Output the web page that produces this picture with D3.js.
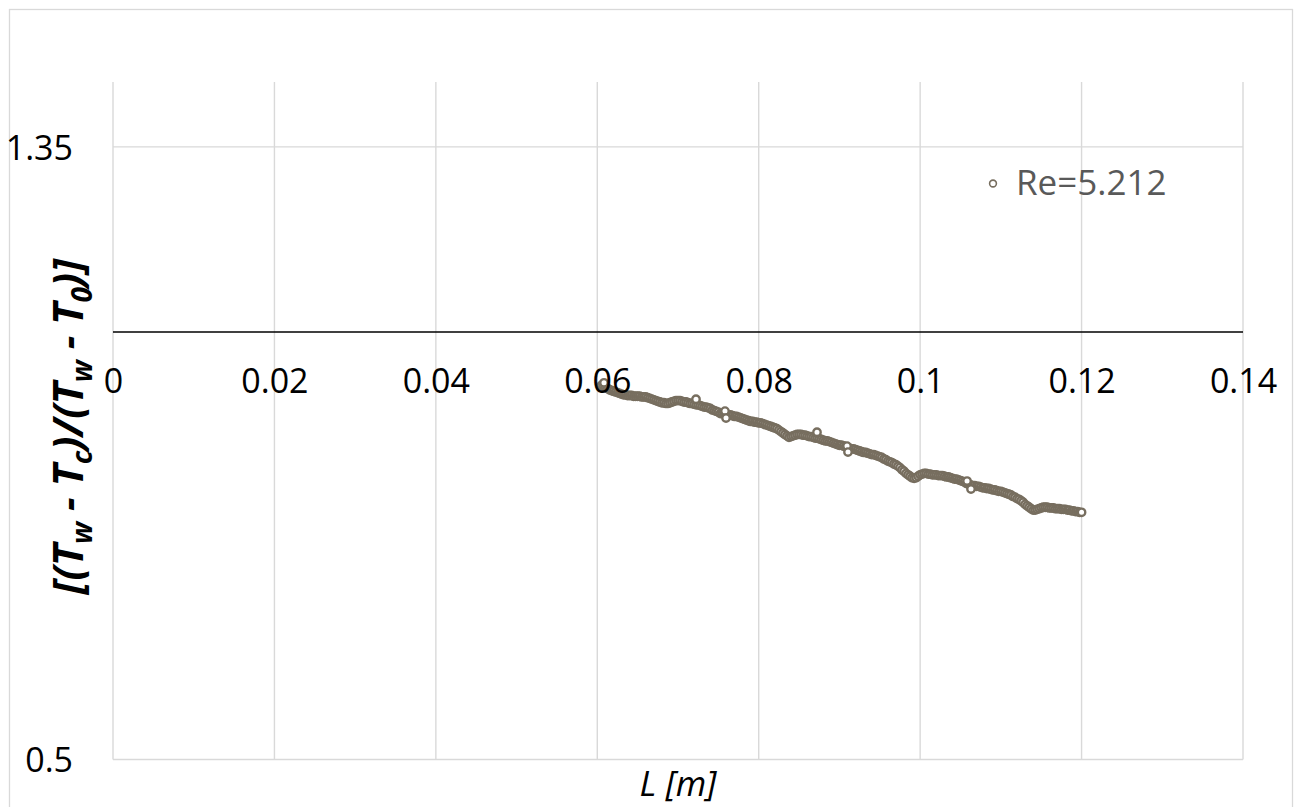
<!DOCTYPE html>
<html>
<head>
<meta charset="utf-8">
<script src="https://cdn.jsdelivr.net/npm/d3@7"></script>
<style>
  body { margin: 0; background: #fff; }
  svg { display: block; }
  text { font-family: "Open Sans", "Liberation Sans", sans-serif; }
</style>
</head>
<body>
<svg id="chart" width="1295" height="807"></svg>
<script>
// Axis ticks and labels
const xTicks = [0, 0.02, 0.04, 0.06, 0.08, 0.1, 0.12, 0.14];
const xTickLabels = ["0", "0.02", "0.04", "0.06", "0.08", "0.1", "0.12", "0.14"];
const yTicks = [0.5, 1.35];
const yTickLabels = ["0.5", "1.35"];
const yMax = 1.44;
const xCross = 1.093;          // value where the horizontal axis crosses
const seriesName = "Re=5.212";

// Measured length along the channel [m]
const lenL = [
  0.0605,0.06075,0.061,0.06125,0.0615,0.06175,
  0.062,0.06225,0.0625,0.06275,0.063,0.06325,
  0.0635,0.06375,0.064,0.06425,0.0645,0.06475,0.065,0.06525,0.0655,0.06575,0.066,0.06625,
  0.0665,0.06675,0.067,0.06725,0.0675,0.06775,0.068,0.06825,0.0685,0.06875,
  0.069,0.06925,0.0695,0.06975,
  0.07,0.07025,0.0705,0.07075,0.071,0.07125,0.0715,
  0.07175,0.072,0.07225,0.0725,0.07275,0.073,0.07325,
  0.0735,0.07375,0.074,0.07425,0.0745,0.07475,0.075,0.07525,
  0.0755,0.07575,0.076,0.07625,0.0765,0.07675,0.077,0.07725,
  0.0775,0.07775,0.078,0.07825,0.0785,0.07875,0.079,
  0.07925,0.0795,0.07975,0.08,0.08025,0.0805,0.08075,0.081,
  0.08125,0.0815,0.08175,0.082,0.08225,0.0825,
  0.08275,0.083,0.08325,0.0835,0.08375,
  0.084,0.08425,0.0845,0.08475,0.085,
  0.08525,0.0855,0.08575,0.086,0.08625,0.0865,0.08675,0.087,
  0.08725,0.0875,0.08775,0.088,0.08825,0.0885,0.08875,0.089,0.08925,0.0895,0.08975,0.09,
  0.09025,0.0905,0.09075,0.091,0.09125,0.0915,0.09175,0.092,
  0.09225,0.0925,0.09275,0.093,0.09325,0.0935,0.09375,0.094,0.09425,0.0945,0.09475,0.095,
  0.09525,0.0955,0.09575,0.096,0.09625,0.0965,0.09675,0.097,
  0.09725,0.0975,0.09775,0.098,0.09825,0.0985,0.09875,0.099,
  0.09925,0.0995,0.09975,0.1,0.10025,
  0.1005,0.10075,0.101,0.10125,0.1015,0.10175,0.102,0.10225,
  0.1025,0.10275,0.103,0.10325,0.1035,0.10375,0.104,0.10425,0.1045,0.10475,
  0.105,0.10525,0.1055,0.10575,0.106,
  0.10625,0.1065,0.10675,0.107,0.10725,0.1075,0.10775,0.108,0.10825,
  0.1085,0.10875,0.109,0.10925,0.1095,0.10975,0.11,0.11025,0.1105,0.11075,
  0.111,0.11125,0.1115,0.11175,0.112,0.11225,
  0.1125,0.11275,0.113,0.11325,0.1135,0.11375,0.114,
  0.11425,0.1145,0.11475,0.115,0.11525,0.1155,
  0.11575,0.116,0.11625,0.1165,0.11675,0.117,0.11725,0.1175,
  0.11775,0.118,0.11825,0.1185,0.11875,0.119,0.11925,0.1195,0.11975,0.12
];

// Dimensionless temperature ratio (Tw - Tc)/(Tw - T0)
const ratio = [
  1.019,1.018,1.016,1.015,1.013,1.012,
  1.011,1.010,1.009,1.008,1.007,1.006,
  1.006,1.005,1.005,1.005,1.004,1.004,1.004,1.004,1.003,1.003,1.003,1.002,
  1.001,1.000,0.999,0.998,0.997,0.996,0.995,0.995,0.994,0.994,
  0.995,0.996,0.997,0.998,
  0.998,0.998,0.997,0.996,0.996,0.995,0.994,
  0.994,0.993,0.992,0.992,0.991,0.990,0.989,
  0.989,0.988,0.987,0.985,0.984,0.983,0.982,0.980,
  0.980,0.979,0.979,0.978,0.978,0.977,0.976,0.976,
  0.975,0.974,0.973,0.972,0.971,0.970,0.969,
  0.969,0.968,0.968,0.967,0.967,0.966,0.965,0.964,
  0.963,0.962,0.961,0.960,0.959,0.957,
  0.955,0.953,0.951,0.949,0.947,
  0.948,0.949,0.950,0.951,0.951,
  0.951,0.950,0.950,0.949,0.948,0.948,0.947,0.946,
  0.946,0.945,0.944,0.943,0.942,0.942,0.941,0.940,0.939,0.938,0.937,0.936,
  0.936,0.935,0.934,0.933,0.932,0.931,0.931,0.930,
  0.929,0.928,0.927,0.926,0.926,0.925,0.924,0.923,0.923,0.922,0.921,0.920,
  0.919,0.917,0.916,0.914,0.913,0.912,0.910,0.909,
  0.907,0.905,0.902,0.900,0.897,0.895,0.893,0.891,
  0.890,0.891,0.893,0.895,0.896,
  0.897,0.897,0.896,0.896,0.895,0.895,0.895,0.894,
  0.894,0.894,0.893,0.892,0.892,0.891,0.890,0.889,0.889,0.888,
  0.887,0.886,0.885,0.883,0.882,
  0.881,0.880,0.880,0.879,0.879,0.878,0.877,0.877,0.876,
  0.876,0.875,0.874,0.874,0.873,0.872,0.872,0.871,0.870,0.869,
  0.868,0.867,0.865,0.864,0.862,0.861,
  0.859,0.857,0.854,0.852,0.850,0.848,0.846,
  0.846,0.847,0.848,0.849,0.850,0.850,
  0.850,0.849,0.849,0.849,0.848,0.848,0.848,0.847,
  0.847,0.847,0.846,0.846,0.845,0.845,0.844,0.844,0.843,0.843
];

// Scattered readings lying off the main trace
const lenOff   = [0.06083, 0.07223, 0.07582, 0.07595, 0.08722, 0.09094, 0.09106, 0.10581, 0.10630];
const ratioOff = [1.0226, 1.000, 0.9834, 0.9737, 0.9542, 0.9348, 0.9265, 0.8863, 0.8752];

const svg = d3.select("#chart");
const plot = { l: 113, r: 1243, t: 82, b: 759.5 };
const gridColor = "#d9d9d9";
const markColor = "#776e5f";

const x = d3.scaleLinear().domain([0, 0.14]).range([plot.l, plot.r]);
const y = d3.scaleLinear().domain([0.5, yMax]).range([plot.b, plot.t]);

// Chart frame
svg.append("rect")
  .attr("x", 9.5).attr("y", 9.5)
  .attr("width", 1283).attr("height", 830)
  .attr("fill", "#fff").attr("stroke", gridColor).attr("stroke-width", 1.3);

// Gridlines
svg.append("g").selectAll("line").data(xTicks).join("line")
  .attr("x1", d => x(d)).attr("x2", d => x(d))
  .attr("y1", y(0.5)).attr("y2", y(yMax))
  .attr("stroke", gridColor).attr("stroke-width", 1.4);
svg.append("g").selectAll("line").data(yTicks).join("line")
  .attr("x1", x(0)).attr("x2", x(0.14))
  .attr("y1", d => y(d)).attr("y2", d => y(d))
  .attr("stroke", gridColor).attr("stroke-width", 1.4);

// Horizontal axis line
svg.append("line")
  .attr("x1", x(0)).attr("x2", x(0.14))
  .attr("y1", y(xCross)).attr("y2", y(xCross))
  .attr("stroke", "#000").attr("stroke-width", 1.5);

// Data markers
const pts = lenL.map((d, i) => [d, ratio[i]])
  .concat(lenOff.map((d, i) => [d, ratioOff[i]]));
svg.append("g").selectAll("circle").data(pts).join("circle")
  .attr("cx", d => x(d[0])).attr("cy", d => y(d[1]))
  .attr("r", 3.7)
  .attr("fill", "#fff")
  .attr("stroke", markColor).attr("stroke-width", 2.4);

// X axis tick labels
const xAxis = d3.axisBottom(x).tickValues(xTicks)
  .tickFormat((d, i) => xTickLabels[i]).tickSize(0);
const gx = svg.append("g")
  .attr("transform", `translate(0,${y(xCross)})`)
  .call(xAxis);
gx.select(".domain").remove();
gx.selectAll("text")
  .attr("y", 61).attr("dy", 0)
  .attr("font-size", 34).attr("fill", "#000")
  .style("font-family", "'Open Sans', sans-serif");

// Y axis tick labels
const yAxis = d3.axisLeft(y).tickValues(yTicks)
  .tickFormat((d, i) => yTickLabels[i]).tickSize(0).tickPadding(40);
const gy = svg.append("g")
  .attr("transform", `translate(${plot.l},0)`)
  .call(yAxis);
gy.select(".domain").remove();
gy.selectAll("text")
  .attr("dy", "0.36em")
  .attr("font-size", 34).attr("fill", "#000")
  .style("font-family", "'Open Sans', sans-serif");

// Axis titles
svg.append("text")
  .attr("x", (plot.l + plot.r) / 2).attr("y", 796)
  .attr("text-anchor", "middle")
  .attr("font-size", 35).attr("font-style", "italic")
  .text("L [m]");

const yt = svg.append("text")
  .attr("transform", `translate(83,${(plot.t + plot.b) / 2 + 6}) rotate(-90)`)
  .attr("text-anchor", "middle")
  .attr("font-size", 42).attr("font-style", "italic").attr("font-weight", "bold");
const parts = [
  ["[(T", 0], ["w", 1], [" - T", 0], ["c", 1], [")/(T", 0], ["w", 1], [" - T", 0], ["0", 1], [")]", 0]
];
let shifted = false;
parts.forEach(([t, sub]) => {
  const ts = yt.append("tspan").text(t);
  if (sub) { ts.attr("font-size", 28).attr("dy", shifted ? 0 : 9); shifted = true; }
  else { if (shifted) ts.attr("dy", -9); shifted = false; }
});

// Legend
svg.append("circle")
  .attr("cx", 993).attr("cy", 183.5).attr("r", 3.4)
  .attr("fill", "#fff").attr("stroke", markColor).attr("stroke-width", 1.6);
svg.append("text")
  .attr("x", 1016).attr("y", 195)
  .attr("font-size", 35).attr("fill", "#595959")
  .text(seriesName);
</script>
</body>
</html>
